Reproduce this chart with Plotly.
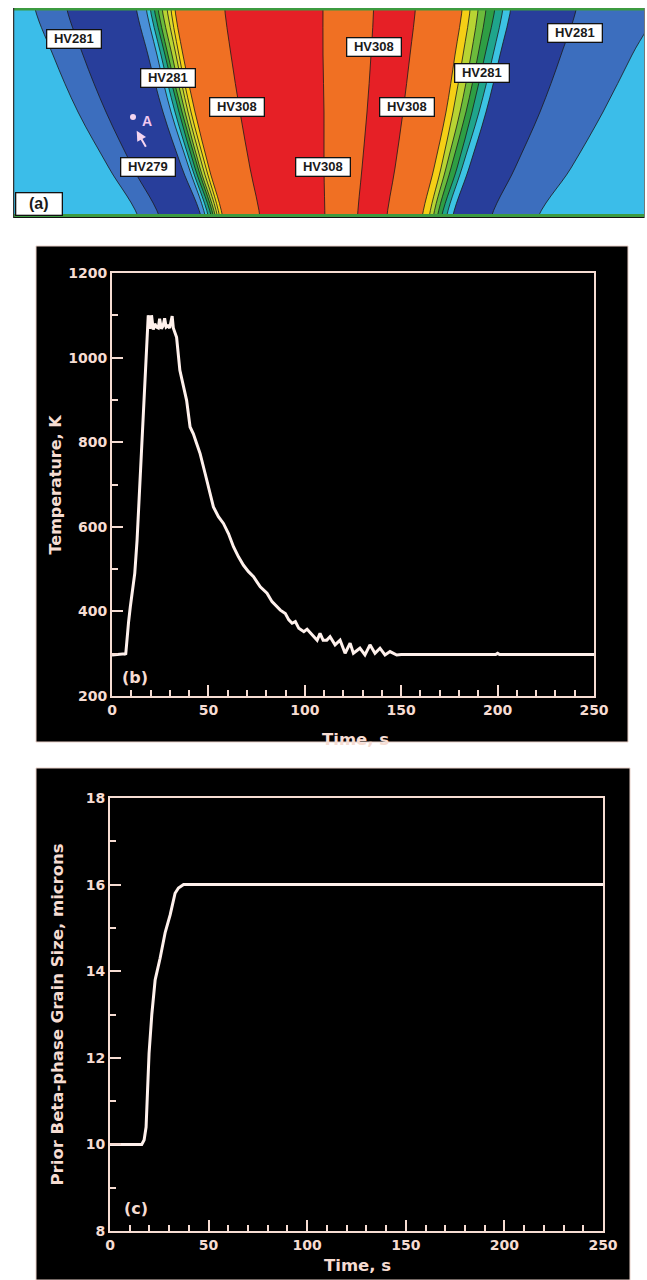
import plotly.graph_objects as go

# ---------------- Panel (a): hardness contour map ----------------
level_y = [0, 55, 112, 168, 225]
boundary_x = [
    [33, 53, 78, 109, 141],     # cyan | mid blue
    [65, 83, 106, 133, 162],    # mid blue | dark blue
    [135, 148, 163, 182, 203],  # dark blue | light blue
    [145, 157, 171, 189, 207],
    [149, 161, 175, 192, 210],
    [153, 165, 179, 195, 213],
    [157, 168, 182, 198, 215],
    [161, 172, 185, 200, 217],
    [166, 176, 188, 203, 219],
    [170, 179, 191, 206, 221],
    [174, 183, 195, 209, 224],  # -> orange
    [224, 231, 240, 250, 261],  # orange | red
    [323, 323, 324, 324, 325],  # red | orange
    [374, 371, 367, 362, 357],  # orange | red
    [416, 410, 403, 395, 386],  # red | orange
    [463, 455, 446, 434, 421],  # orange | yellow
    [471, 463, 453, 441, 428],
    [479, 471, 460, 446, 432],
    [487, 478, 466, 451, 436],
    [496, 485, 472, 457, 440],
    [504, 493, 479, 462, 445],
    [512, 500, 486, 469, 451],  # -> dark blue
    [578, 561, 540, 515, 489],  # dark blue | mid blue
    [660, 632, 603, 571, 535],  # mid blue | cyan
]
CY = '#3bbde9'; MB = '#3c6ebe'; DB = '#283e9b'; LB = '#4a8fd8'; C2 = '#3cc3e3'
TE = '#1fa58c'; G1 = '#2e9e44'; G2 = '#6cbb3c'; YG = '#b8d433'; YG2 = '#dcd82c'
YE = '#f5cf16'; OR = '#f07023'; RD = '#e62026'
region_left_colors = [CY, MB, DB, LB, C2, TE, G1, G2, YG, YG2, YE, OR, RD, OR, RD,
                      OR, YE, YG, G2, G1, TE, C2, DB, MB]
region_right_color = CY

hv_labels = ["HV281", "HV281", "HV308", "HV279", "HV308", "HV308", "HV308", "HV281", "HV281"]
hv_x = [74, 168, 237, 148, 323, 374, 407, 482, 575]
hv_y = [39, 78, 107, 167, 167, 47, 107, 73, 33]
point_a = (133, 117)

# ---------------- Panel (b): temperature history ----------------
time_b = [0, 3, 6.6, 7.1, 8.0, 8.6, 9.5, 11.8, 13, 14.2, 15.8, 17.5, 18.3, 18.8,
          19.7, 20.5, 21.4, 22.2, 23.1, 24.0, 24.7, 25.6, 26.5, 27.3, 28.1, 29.0,
          29.9, 30.6, 31.2, 31.8, 32.6, 33.5, 35.2, 37.0, 38.7, 40.5, 42.2, 43.9,
          45.7, 48.3, 50.0, 52.6, 55.2, 57.8, 60.4, 63.0, 65.6, 68.2, 70.8, 73.4,
          76.9, 80.4, 83.0, 84.7, 87.3, 89.9, 91.7, 93.4, 95.1, 96.9, 99.5, 101.2,
          103.8, 106.4, 107.9, 109.5, 111.4, 113.1, 115.7, 118.3, 120.9, 123.5,
          125.2, 128.6, 131.2, 133.8, 136.4, 139.0, 141.6, 144.2, 147.7, 150,
          199, 200, 201, 250]
temp_b = [297, 298, 300, 298, 350, 375, 411, 490, 568, 680, 805, 962, 1050, 1100,
          1068, 1100, 1066, 1080, 1072, 1070, 1092, 1068, 1075, 1093, 1072, 1075,
          1070, 1085, 1098, 1070, 1060, 1048, 970, 931, 899, 836, 820, 797,
          773, 726, 694, 647, 624, 608, 584, 553, 529, 509, 494, 482,
          458, 443, 423, 415, 403, 395, 380, 372, 376, 360, 352, 358,
          344, 332, 348, 332, 332, 340, 321, 332, 301, 325,
          301, 313, 297, 321, 301, 313, 297, 305, 297, 298,
          298, 301, 298, 298]

# ---------------- Panel (c): grain size ----------------
time_c = [0, 16.1, 17.3, 18.3, 19.0, 19.8, 21.2, 22.9, 25.4, 28.0, 30.5, 33.0, 34.7, 37.3, 40, 250]
grain_c = [10, 10, 10.1, 10.4, 11.2, 12.1, 13.0, 13.8, 14.3, 14.9, 15.3, 15.8, 15.92, 16.0, 16.0, 16.0]

W, H = 647, 1280
AXC = '#f6dcd2'
LINEC = '#fff1ec'

fig = go.Figure()

# contour regions (painter's order, right to left)
ext_y = [-60] + level_y + [290]
for bx, col in reversed(list(zip(boundary_x, region_left_colors))):
    ext_x = [bx[0]] + bx + [bx[-1]]
    fig.add_trace(go.Scatter(
        x=[-100] + ext_x + [-100], y=[-60] + ext_y + [290],
        mode='lines', fill='toself', fillcolor=col,
        line=dict(width=0, shape='spline', color=col),
        hoverinfo='skip', showlegend=False, xaxis='x', yaxis='y'))
for bx in boundary_x:
    ext_x = [bx[0]] + bx + [bx[-1]]
    fig.add_trace(go.Scatter(
        x=ext_x, y=ext_y, mode='lines',
        line=dict(width=0.8, shape='spline', color='#1a1a1a'),
        hoverinfo='skip', showlegend=False, xaxis='x', yaxis='y'))

fig.add_trace(go.Scatter(x=[point_a[0]], y=[point_a[1]], mode='markers',
                         marker=dict(size=6, color='#f5d5f0'),
                         showlegend=False, xaxis='x', yaxis='y'))

fig.add_trace(go.Scatter(x=time_b, y=temp_b, mode='lines',
                         line=dict(color=LINEC, width=3),
                         showlegend=False, xaxis='x2', yaxis='y2'))
fig.add_trace(go.Scatter(x=time_c, y=grain_c, mode='lines',
                         line=dict(color=LINEC, width=3),
                         showlegend=False, xaxis='x3', yaxis='y3'))


def ax_style(dtick, minor_dtick, rng, domain, anchor):
    return dict(range=rng, domain=domain, anchor=anchor, automargin=False,
                showline=True, linecolor=AXC, linewidth=2, mirror=True,
                ticks='inside', ticklen=11, tickwidth=2, tickcolor=AXC,
                dtick=dtick, tick0=0,
                minor=dict(ticks='inside', ticklen=6, tickwidth=1.5, tickcolor=AXC,
                           dtick=minor_dtick, showgrid=False),
                showgrid=False, zeroline=False,
                tickfont=dict(family='DejaVu Sans', size=14, color=AXC, weight='bold'))


def py(p):
    return 1 - p / H


shapes = [
    dict(type='rect', xref='x', yref='y', x0=0, x1=700, y0=-60, y1=290,
         fillcolor=region_right_color, line=dict(width=0), layer='below'),
    dict(type='rect', xref='paper', yref='paper', x0=36 / W, x1=628 / W,
         y0=py(742), y1=py(246), fillcolor='black', line=dict(width=1, color='#e8d0c8'),
         layer='below'),
    dict(type='rect', xref='paper', yref='paper', x0=36 / W, x1=630 / W,
         y0=0, y1=py(768), fillcolor='black', line=dict(width=1, color='#e8d0c8'),
         layer='below'),
    # panel (a) frame
    dict(type='line', xref='x', yref='y', x0=13, x1=645, y0=9, y1=9,
         line=dict(color='#3c9b40', width=3)),
    dict(type='line', xref='x', yref='y', x0=13, x1=645, y0=215.5, y1=215.5,
         line=dict(color='#3c9b40', width=3)),
    dict(type='line', xref='x', yref='y', x0=13, x1=645, y0=217.8, y1=217.8,
         line=dict(color='#111111', width=1.5)),
    dict(type='line', xref='x', yref='y', x0=13.5, x1=13.5, y0=8, y1=218,
         line=dict(color='#333333', width=1.5)),
    dict(type='line', xref='x', yref='y', x0=644.5, x1=644.5, y0=8, y1=218,
         line=dict(color='#777777', width=1)),
]

annotations = []
for t, x, y in zip(hv_labels, hv_x, hv_y):
    annotations.append(dict(xref='x', yref='y', x=x, y=y, text='<b>' + t + '</b>',
                            showarrow=False, bgcolor='white', bordercolor='#111111',
                            borderwidth=1.3, borderpad=0, width=53, height=17,
                            xanchor='center', yanchor='middle',
                            font=dict(family='Liberation Sans', size=13, color='#1a1a1a')))


def pa(x, y, text, size, angle=0, **kw):
    return dict(xref='paper', yref='paper', x=x / W, y=py(y), text=text,
                textangle=angle, showarrow=False, xanchor='center', yanchor='middle',
                font=dict(family='DejaVu Sans', size=size, color=AXC, weight='bold'), **kw)


annotations += [
    dict(xref='x', yref='y', x=38.5, y=204, text='<b>(a)</b>', showarrow=False,
         bgcolor='white', bordercolor='#111111', borderwidth=1.3, borderpad=0,
         width=45, height=21, xanchor='center', yanchor='middle',
         font=dict(family='Liberation Sans', size=16, color='#1a1a1a')),
    dict(xref='x', yref='y', x=146.5, y=121.5, text='<b>A</b>', showarrow=False,
         xanchor='center', yanchor='middle',
         font=dict(family='Liberation Sans', size=14, color='#f0c8f0')),
    dict(xref='x', yref='y', x=136.7, y=130.7, ax=146.7, ay=148.3, axref='x', ayref='y',
         text='', showarrow=True, arrowhead=2, arrowsize=1, arrowwidth=2,
         arrowcolor='#f5d5f0'),
    pa(55, 484.5, 'Temperature, K', 16, -90),
    pa(355, 739, 'Time, s', 16.5),
    pa(135, 677, '(b)', 16),
    pa(57, 1014.5, 'Prior Beta-phase Grain Size, microns', 16.5, -90),
    pa(357, 1265, 'Time, s', 16.5),
    pa(136, 1208, '(c)', 16),
]

fig.update_layout(
    width=W, height=H, margin=dict(l=0, r=0, t=0, b=0, pad=0, autoexpand=False),
    paper_bgcolor='white', plot_bgcolor='black', showlegend=False,
    xaxis=dict(domain=[13 / W, 645 / W], range=[13, 645], visible=False, anchor='y',
               automargin=False),
    yaxis=dict(domain=[py(218), py(8)], range=[218, 8], visible=False, anchor='x',
               automargin=False),
    xaxis2=ax_style(50, 10, [0, 250], [112 / W, 594 / W], 'y2'),
    yaxis2=ax_style(200, 100, [200, 1200], [py(696), py(273)], 'x2'),
    xaxis3=ax_style(50, 10, [0, 250], [110 / W, 603 / W], 'y3'),
    yaxis3=ax_style(2, 1, [8, 18], [py(1231), py(798)], 'x3'),
    shapes=shapes, annotations=annotations,
)

fig.write_html(
    "out.html",
    config={'displayModeBar': False},
    post_script="document.body.style.margin='0';",
)
